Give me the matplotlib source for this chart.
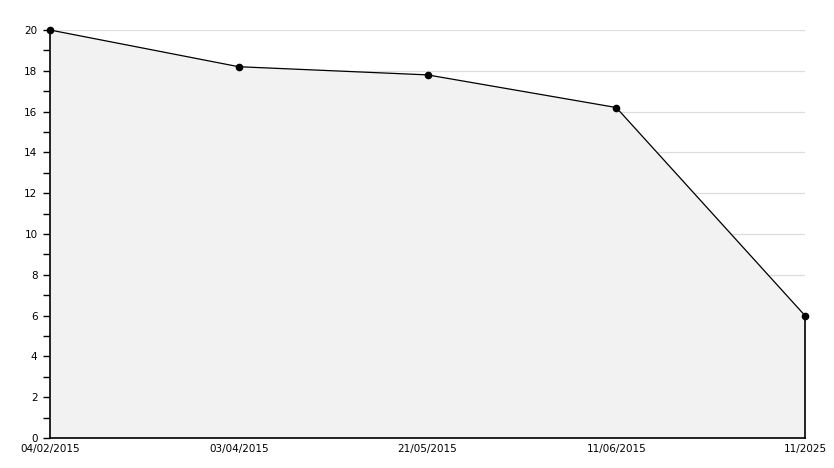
import matplotlib
matplotlib.use("Agg")
from matplotlib import pyplot as plt
from matplotlib.ticker import MultipleLocator

labels = ["04/02/2015", "03/04/2015", "21/05/2015", "11/06/2015", "11/2025"]
values = [20, 18.2, 17.8, 16.2, 6]

fig = plt.figure(figsize=(8.34, 4.68), dpi=100)
ax = fig.add_axes([50 / 834, 30 / 468, 755 / 834, 408 / 468])

x = list(range(len(values)))
ax.fill_between(x, values, 0, color="#f2f2f2", zorder=1)
ax.plot(x, values, color="black", lw=0.9, zorder=3, clip_on=False)
ax.plot(x, values, "o", color="black", ms=4.5, zorder=6, clip_on=False)
ax.plot([x[-1], x[-1]], [0, values[-1]], color="black", lw=1.2, zorder=3,
        clip_on=False)

ax.set_xlim(0, len(values) - 1)
ax.set_ylim(0, 20)
ax.yaxis.set_major_locator(MultipleLocator(2))
ax.yaxis.set_minor_locator(MultipleLocator(1))
ax.set_xticks(x)
ax.set_xticklabels(labels)

ax.grid(axis="y", which="major", color="#dddddd", lw=0.9, zorder=0)
ax.set_axisbelow(True)
for s in ["top", "right"]:
    ax.spines[s].set_visible(False)
for s in ["left", "bottom"]:
    ax.spines[s].set_linewidth(1.2)
    ax.spines[s].set_zorder(5)

ax.tick_params(axis="y", which="both", direction="out", length=5, width=1,
               labelsize=7.5, pad=4)
ax.tick_params(axis="x", direction="in", length=5, width=1, labelsize=7.5, pad=4)
ax.get_xticklines()[0].set_visible(False)
ax.get_xticklines()[-2].set_visible(False)

fig.savefig("out.png", dpi=100)
